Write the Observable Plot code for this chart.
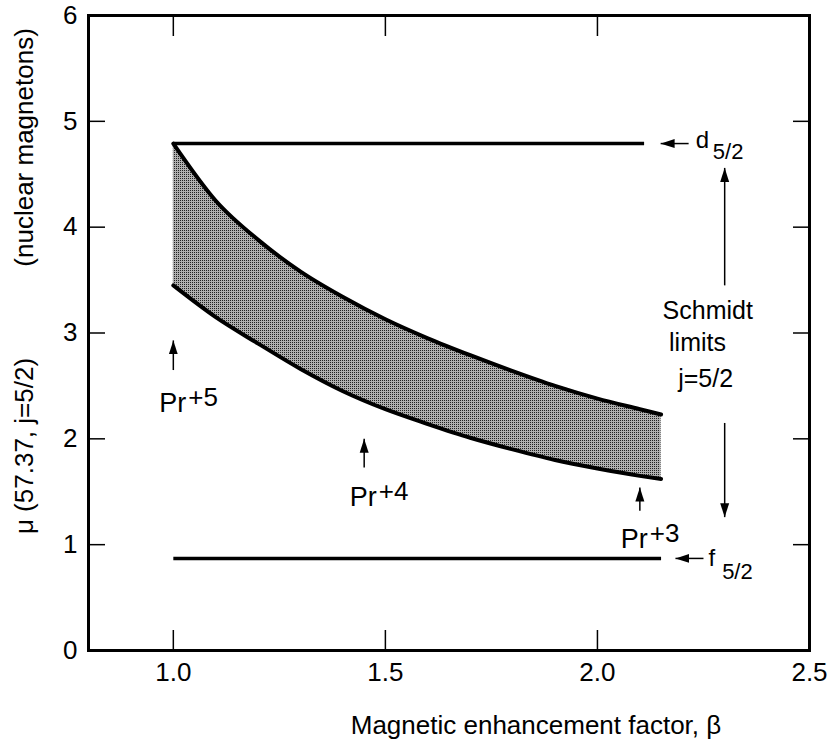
<!DOCTYPE html>
<html>
<head>
<meta charset="utf-8">
<script src="https://cdn.jsdelivr.net/npm/d3@7"></script>
<script src="https://cdn.jsdelivr.net/npm/@observablehq/plot@0.6"></script>
<style>
  body { margin: 0; background: #fff; }
  #chart svg { display: block; }
</style>
</head>
<body>
<div id="chart"></div>
<script>
// ---- data ----
const bandBeta  = [1.0, 1.1, 1.2, 1.3, 1.4, 1.5, 1.6, 1.7, 1.8, 1.9, 2.0, 2.1, 2.15];
const bandUpper = [4.79, 4.25, 3.88, 3.58, 3.34, 3.13, 2.95, 2.79, 2.64, 2.50, 2.38, 2.28, 2.23];
const bandLower = [3.45, 3.15, 2.90, 2.66, 2.45, 2.28, 2.14, 2.01, 1.90, 1.80, 1.72, 1.65, 1.62];

const limitNames = ["d5/2", "f5/2"];
const limitMu    = [4.79, 0.87];
const limitStart = [1.0, 1.0];
const limitEnd   = [2.11, 2.15];

// arrows: tail (x1,y1) -> tip (x2,y2)
const arrows = [
  {x1: 1.0,   y1: 2.65, x2: 1.0,   y2: 2.93},
  {x1: 1.45,  y1: 1.73, x2: 1.45,  y2: 2.00},
  {x1: 2.10,  y1: 1.32, x2: 2.10,  y2: 1.54},
  {x1: 2.215, y1: 4.79, x2: 2.149, y2: 4.79},
  {x1: 2.25,  y1: 0.87, x2: 2.184, y2: 0.87},
  {x1: 2.30,  y1: 3.45, x2: 2.30,  y2: 4.56},
  {x1: 2.30,  y1: 2.15, x2: 2.30,  y2: 1.26}
];

const ionLabels = [
  {x: 0.967, y: 2.25, base: "Pr", sup: "+5"},
  {x: 1.416, y: 1.37, base: "Pr", sup: "+4"},
  {x: 2.055, y: 0.97, base: "Pr", sup: "+3"}
];
const limitLabels = [
  {x: 2.232, y: 4.75, main: "d", subX: 2.272, subY: 4.64, sub: "5/2"},
  {x: 2.262, y: 0.80, main: "f", subX: 2.294, subY: 0.68, sub: "5/2"}
];
const schmidtLines = [
  {x: 2.26,  y: 3.13, text: "Schmidt"},
  {x: 2.236, y: 2.83, text: "limits"},
  {x: 2.255, y: 2.49, text: "j=5/2"}
];

const xTicks = [1.0, 1.5, 2.0];
const xTickLabels = [1.0, 1.5, 2.0, 2.5];
const yTicks = [1, 2, 3, 4, 5];
const yTickLabels = [0, 1, 2, 3, 4, 5, 6];
const xTitle = "Magnetic enhancement factor, \u03B2";
const yTitleParts = [
  {text: "\u03BC (57.37, j=5/2)", y: 1.10, anchor: "start", spacing: 3.5},
  {text: "(nuclear magnetons)", y: 5.88, anchor: "end", spacing: 0}
];

// ---- tables built from the arrays ----
const band = bandBeta.map((b, i) => ({beta: b, upper: bandUpper[i], lower: bandLower[i]}));
const limits = limitNames.map((n, i) => ({name: n, mu: limitMu[i], b1: limitStart[i], b2: limitEnd[i]}));

const head = (color) => d3.create("svg:marker")
  .attr("viewBox", "-14 -5 14 10")
  .attr("markerWidth", 14)
  .attr("markerHeight", 10)
  .attr("markerUnits", "userSpaceOnUse")
  .attr("orient", "auto")
  .attr("fill", color)
  .attr("stroke", "none")
  .call(m => m.append("path").attr("d", "M-14,-4.5L0,0L-14,4.5Z"))
  .node();

const font = "'Liberation Sans', Arial, sans-serif";

const chart = Plot.plot({
  width: 837,
  height: 746,
  marginLeft: 88,
  marginRight: 28,
  marginTop: 15,
  marginBottom: 96,
  x: {domain: [0.8, 2.5], axis: null},
  y: {domain: [0, 6], axis: null},
  style: {fontFamily: font, color: "black", background: "white", overflow: "visible"},
  marks: [
    Plot.areaY(band, {x: "beta", y1: "lower", y2: "upper", fill: "url(#stipple)", curve: "monotone-x"}),
    Plot.line(band, {x: "beta", y: "upper", stroke: "black", strokeWidth: 4, curve: "monotone-x"}),
    Plot.line(band, {x: "beta", y: "lower", stroke: "black", strokeWidth: 4, curve: "monotone-x"}),
    Plot.link(limits, {x1: "b1", x2: "b2", y1: "mu", y2: "mu", stroke: "black", strokeWidth: 3.5}),
    Plot.link(arrows, {x1: "x1", y1: "y1", x2: "x2", y2: "y2", stroke: "black", strokeWidth: 1.5, markerEnd: head}),
    // inward ticks
    Plot.axisX({anchor: "bottom", ticks: xTicks, tickSize: -20, tickFormat: () => "", label: null, strokeWidth: 1.5}),
    Plot.axisX({anchor: "top", ticks: xTicks, tickSize: -20, tickFormat: () => "", label: null, strokeWidth: 1.5}),
    Plot.axisY({anchor: "left", ticks: yTicks, tickSize: -17, tickFormat: () => "", label: null, strokeWidth: 1.5}),
    Plot.axisY({anchor: "right", ticks: yTicks, tickSize: -17, tickFormat: () => "", label: null, strokeWidth: 1.5}),
    Plot.frame({stroke: "black", strokeWidth: 3}),
    // tick labels
    Plot.text(xTickLabels, {x: d => d, text: d => d.toFixed(1), frameAnchor: "bottom", lineAnchor: "middle", dy: 22, fontSize: 26}),
    Plot.text(yTickLabels, {y: d => d, text: d => String(d), frameAnchor: "left", textAnchor: "end", dx: -11, fontSize: 26}),
    // axis titles
    Plot.text([xTitle], {text: d => d, frameAnchor: "bottom", lineAnchor: "middle", dx: 87, dy: 75, fontSize: 26, letterSpacing: 1}),
    ...yTitleParts.map(p => Plot.text([p], {y: "y", text: "text", frameAnchor: "left", textAnchor: p.anchor, lineAnchor: "middle", rotate: -90, dx: -64, fontSize: 26, letterSpacing: p.spacing})),
    // annotations
    Plot.text(ionLabels, {x: "x", y: "y", text: "base", textAnchor: "start", lineAnchor: "bottom", fontSize: 27}),
    Plot.text(ionLabels, {x: "x", y: "y", text: "sup", textAnchor: "start", lineAnchor: "bottom", dx: 29, dy: -6, fontSize: 26, letterSpacing: 3}),
    Plot.text(limitLabels, {x: "x", y: "y", text: "main", textAnchor: "start", lineAnchor: "bottom", fontSize: 24}),
    Plot.text(limitLabels, {x: "subX", y: "subY", text: "sub", textAnchor: "start", lineAnchor: "bottom", fontSize: 22, letterSpacing: 3.5}),
    Plot.text(schmidtLines, {x: "x", y: "y", text: "text", textAnchor: "middle", lineAnchor: "bottom", fontSize: 25, letterSpacing: 1.5})
  ]
});

// stipple texture for the band
const defs = d3.select(chart).insert("defs", ":first-child");
const pat = defs.append("pattern")
  .attr("id", "stipple")
  .attr("width", 2).attr("height", 2)
  .attr("patternUnits", "userSpaceOnUse");
pat.append("rect").attr("width", 2).attr("height", 2).attr("fill", "#b0b0b0");
pat.append("rect").attr("width", 1).attr("height", 1).attr("fill", "#222");

document.getElementById("chart").appendChild(chart);
</script>
</body>
</html>
